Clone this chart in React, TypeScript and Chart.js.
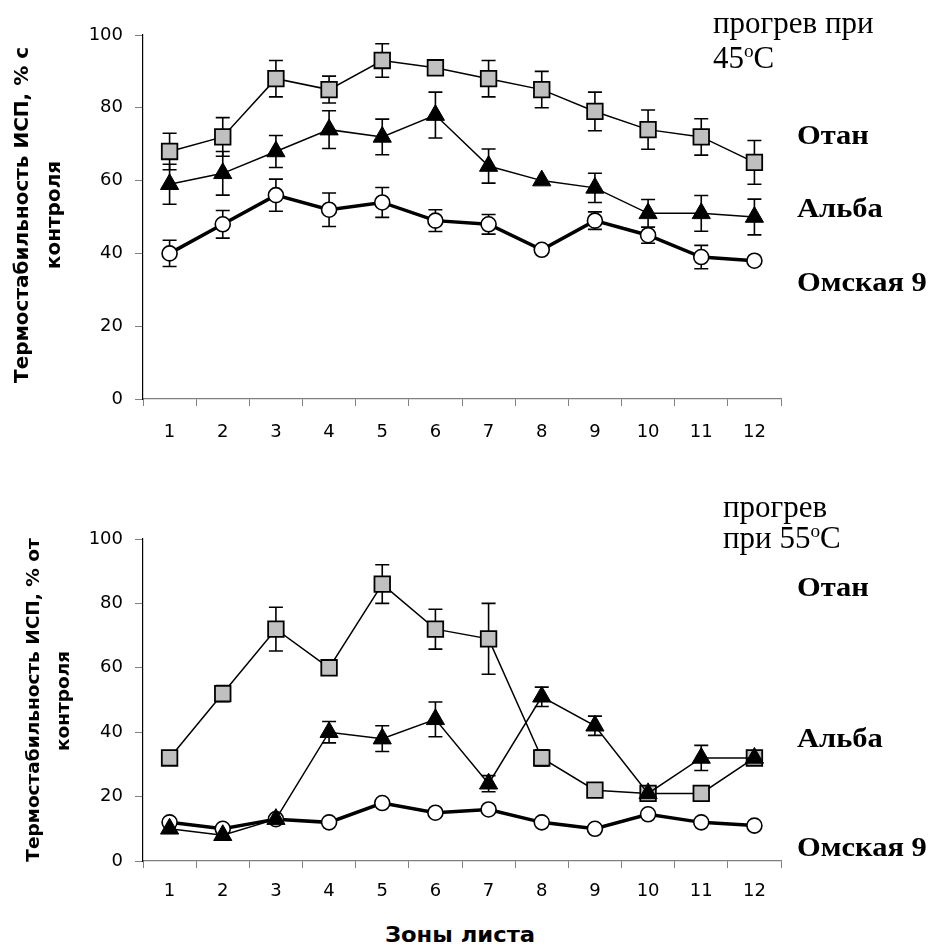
import React, { useEffect, useRef } from "react";
import { Chart, registerables } from "chart.js";

Chart.register(...registerables);

// ---------- data ----------
const zones = ["1", "2", "3", "4", "5", "6", "7", "8", "9", "10", "11", "12"];

// прогрев при 45°C
const otan45 = [68, 72, 88, 85, 93, 91, 88, 85, 79, 74, 72, 65];
const otan45Err = [5, 5.3, 5, 3.7, 4.6, 1, 5, 5, 5.3, 5.4, 5, 6];
const alba45 = [59, 62, 68, 74, 72, 78, 64, 60, 58, 51, 51, 50];
const alba45Err = [5.5, 6, 4.4, 5.2, 4.9, 6.3, 4.7, 0, 4, 3.8, 4.9, 4.9];
const omsk45 = [40, 48, 56, 52, 54, 49, 48, 41, 49, 45, 39, 38];
const omsk45Err = [3.6, 3.8, 4.4, 4.6, 4.1, 3, 2.7, 0, 2.4, 2.2, 3.2, 0];

// прогрев при 55°C
const otan55 = [32, 52, 72, 60, 86, 72, 69, 32, 22, 21, 21, 32];
const otan55Err = [0, 2.5, 6.8, 0, 6, 6.2, 11, 2.5, 0, 0, 0, 0];
const alba55 = [10, 8, 13, 40, 38, 44, 24, 51, 42, 21, 32, 32];
const alba55Err = [0, 0, 0, 3.3, 4, 5.4, 2.5, 3, 3, 1.5, 3.9, 0];
const omsk55 = [12, 10, 13, 12, 18, 15, 16, 12, 10, 14.5, 12, 11];
const omsk55Err = [0, 0, 0, 0, 0, 0, 0, 0, 0, 0, 0, 0];

const yMin = 0;
const yMax = 100;
const yStep = 20;

// ---------- plugin: error bars ----------
const errorBarPlugin = {
  id: "errorBars",
  beforeDatasetsDraw(chart: any) {
    const ctx = chart.ctx;
    const y = chart.scales.y;
    chart.data.datasets.forEach((ds: any, i: number) => {
      const errs: number[] | undefined = ds.yErr;
      if (!errs) return;
      const meta = chart.getDatasetMeta(i);
      ctx.save();
      ctx.strokeStyle = "#000";
      ctx.lineWidth = 1.6;
      meta.data.forEach((pt: any, j: number) => {
        const e = errs[j];
        if (!e) return;
        const v = ds.data[j];
        const x = pt.x;
        const t = y.getPixelForValue(v + e);
        const b = y.getPixelForValue(v - e);
        ctx.beginPath();
        ctx.moveTo(x, t);
        ctx.lineTo(x, b);
        ctx.moveTo(x - 7, t);
        ctx.lineTo(x + 7, t);
        ctx.moveTo(x - 7, b);
        ctx.lineTo(x + 7, b);
        ctx.stroke();
      });
      ctx.restore();
    });
  },
};

function makeDatasets(
  otan: number[], otanErr: number[],
  alba: number[], albaErr: number[],
  omsk: number[], omskErr: number[]
) {
  return [
    {
      label: "Альба",
      data: alba,
      yErr: albaErr,
      borderColor: "#000",
      borderWidth: 1.5,
      pointStyle: "triangle",
      pointRadius: 10.5,
      pointBackgroundColor: "#000",
      pointBorderColor: "#000",
      pointBorderWidth: 1,
      tension: 0,
      fill: false,
    },
    {
      label: "Отан",
      data: otan,
      yErr: otanErr,
      borderColor: "#000",
      borderWidth: 1.5,
      pointStyle: "rect",
      pointRadius: 11,
      pointBackgroundColor: "#C0C0C0",
      pointBorderColor: "#000",
      pointBorderWidth: 1.8,
      tension: 0,
      fill: false,
    },
    {
      label: "Омская 9",
      data: omsk,
      yErr: omskErr,
      borderColor: "#000",
      borderWidth: 3.5,
      pointStyle: "circle",
      pointRadius: 7.5,
      pointBackgroundColor: "#fff",
      pointBorderColor: "#000",
      pointBorderWidth: 1.6,
      tension: 0,
      fill: false,
    },
  ];
}

type PanelProps = {
  top: number;
  width: number;
  height: number;
  padTop: number;
  padBottom: number;
  padRight: number;
  yWidth: number;
  xHeight: number;
  xLabelPad: number;
  datasets: any[];
};

function Panel(p: PanelProps) {
  const ref = useRef<HTMLCanvasElement | null>(null);
  useEffect(() => {
    if (!ref.current) return;
    const tickFont = { family: "'DejaVu Sans', sans-serif", size: 18 };
    const chart = new Chart(ref.current, {
      type: "line",
      data: { labels: zones, datasets: p.datasets },
      options: {
        animation: false,
        responsive: false,
        maintainAspectRatio: false,
        events: [],
        layout: { padding: { left: 0, right: p.padRight, top: p.padTop, bottom: p.padBottom } },
        plugins: { legend: { display: false }, tooltip: { enabled: false }, title: { display: false } },
        scales: {
          x: {
            type: "category",
            offset: true,
            grid: { offset: true, drawOnChartArea: false, tickLength: 7, color: "#808080", lineWidth: 1 },
            border: { color: "#808080", width: 1.2 },
            ticks: { font: tickFont, color: "#000", padding: p.xLabelPad, maxRotation: 0, autoSkip: false },
            afterFit: (s: any) => { s.height = p.xHeight; },
          },
          y: {
            type: "linear",
            min: yMin,
            max: yMax,
            grid: { drawOnChartArea: false, tickLength: 8, color: "#808080", lineWidth: 1 },
            border: { color: "#000", width: 1.2 },
            ticks: { stepSize: yStep, font: tickFont, color: "#000", padding: 12 },
            afterFit: (s: any) => { s.width = p.yWidth; },
          },
        },
      } as any,
      plugins: [errorBarPlugin],
    });
    return () => chart.destroy();
  }, []);
  return (
    <canvas
      ref={ref}
      width={p.width}
      height={p.height}
      style={{ position: "absolute", left: 0, top: p.top, width: p.width, height: p.height, display: "block" }}
    />
  );
}

const serif = "'Liberation Serif', 'Times New Roman', serif";
const sans = "'DejaVu Sans', sans-serif";

function Txt(props: { x: number; baseline: number; size: number; bold?: boolean; scaleX?: number; children: any }) {
  const { x, baseline, size, bold, scaleX = 1, children } = props;
  return (
    <div
      style={{
        position: "absolute",
        left: x,
        top: baseline - 0.8375 * size,
        fontFamily: serif,
        fontSize: size,
        lineHeight: 1,
        fontWeight: bold ? "bold" : "normal",
        whiteSpace: "nowrap",
        color: "#000",
        transform: `scaleX(${scaleX})`,
        transformOrigin: "left center",
      }}
    >
      {children}
    </div>
  );
}

function VTitle(props: { cx: number; cy: number; size: number; children: any }) {
  return (
    <div style={{ position: "absolute", left: props.cx, top: props.cy, width: 0, height: 0 }}>
      <div
        style={{
          position: "absolute",
          left: 0,
          top: 0,
          transform: "translate(-50%, -50%) rotate(-90deg)",
          fontFamily: sans,
          fontWeight: "bold",
          fontSize: props.size,
          lineHeight: 1,
          whiteSpace: "nowrap",
          color: "#000",
        }}
      >
        {props.children}
      </div>
    </div>
  );
}

export default function App() {
  const ds45 = makeDatasets(otan45, otan45Err, alba45, alba45Err, omsk45, omsk45Err);
  const ds55 = makeDatasets(otan55, otan55Err, alba55, alba55Err, omsk55, omsk55Err);
  return (
    <div style={{ position: "fixed", left: 0, top: 0, width: 933, height: 946, background: "#fff", overflow: "hidden" }}>
      <Panel top={0} width={933} height={460} padTop={35} padBottom={11} padRight={152} yWidth={143} xHeight={50} xLabelPad={16} datasets={ds45} />
      <Panel top={480} width={933} height={420} padTop={59} padBottom={4} padRight={152} yWidth={143} xHeight={35} xLabelPad={13} datasets={ds55} />

      {/* top annotations */}
      <Txt x={713} baseline={33} size={31}>прогрев при</Txt>
      <Txt x={713} baseline={68} size={31}>45<sup style={{ fontSize: "0.62em", verticalAlign: "0.55em", lineHeight: 0 }}>o</sup>C</Txt>
      <Txt x={797} baseline={145} size={27} bold scaleX={1.13}>Отан</Txt>
      <Txt x={797} baseline={218} size={27} bold scaleX={1.13}>Альба</Txt>
      <Txt x={797} baseline={292} size={27} bold scaleX={1.13}>Омская 9</Txt>

      {/* bottom annotations */}
      <Txt x={723} baseline={517} size={31}>прогрев</Txt>
      <Txt x={723} baseline={548} size={31}>при 55<sup style={{ fontSize: "0.62em", verticalAlign: "0.55em", lineHeight: 0 }}>o</sup>C</Txt>
      <Txt x={797} baseline={597} size={27} bold scaleX={1.13}>Отан</Txt>
      <Txt x={797} baseline={748} size={27} bold scaleX={1.13}>Альба</Txt>
      <Txt x={797} baseline={857} size={27} bold scaleX={1.13}>Омская 9</Txt>

      {/* axis titles */}
      <VTitle cx={21} cy={215} size={20}>Термостабильность ИСП, % с</VTitle>
      <VTitle cx={53} cy={215} size={20}>контроля</VTitle>
      <VTitle cx={33} cy={700} size={18.5}>Термостабильность ИСП, % от</VTitle>
      <VTitle cx={63} cy={701} size={18.5}>контроля</VTitle>

      <div
        style={{
          position: "absolute",
          left: 460,
          top: 943 - 0.85 * 21,
          transform: "translateX(-50%) scaleX(1.08)",
          fontFamily: sans,
          fontWeight: "bold",
          fontSize: 21,
          lineHeight: 1,
          whiteSpace: "nowrap",
          color: "#000",
        }}
      >
        Зоны листа
      </div>
    </div>
  );
}
